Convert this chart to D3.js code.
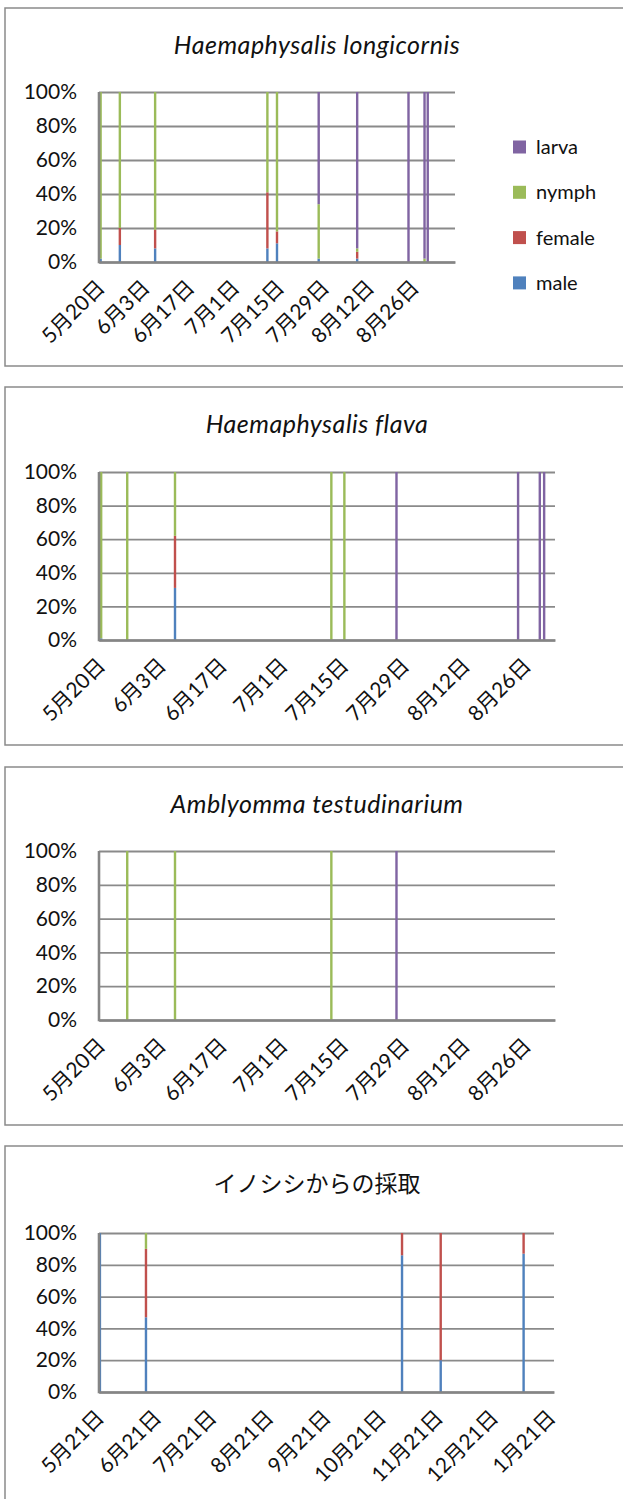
<!DOCTYPE html>
<html><head><meta charset="utf-8">
<script src="https://cdn.jsdelivr.net/npm/d3@7"></script>
<style>body{margin:0;background:#fff}</style>
</head><body>
<svg id="c" width="623" height="1499"></svg>
<script>
// ---------- DATA ----------
const stages = ["male", "female", "nymph", "larva"];
const stageColors = ["#4F81BD", "#C0504D", "#9BBB59", "#8064A2"];
const legendOrder = ["larva", "nymph", "female", "male"];
const yTicks = [0, 20, 40, 60, 80, 100];

// Panel 1: Haemaphysalis longicornis
const p1Title = "Haemaphysalis longicornis";
const p1Dates  = ["2013-05-20","2013-05-26","2013-06-06","2013-07-11","2013-07-14","2013-07-27","2013-08-08","2013-08-24","2013-08-29","2013-08-30"];
const p1Male   = [2, 10, 8, 8, 11, 2, 2, 0, 0, 0];
const p1Female = [0, 10, 11, 33, 7, 0, 4, 0, 0, 0];
const p1Nymph  = [98, 80, 81, 59, 82, 32, 2, 0, 2, 0];
const p1Larva  = [0, 0, 0, 0, 0, 66, 92, 100, 98, 100];

// Panel 2: Haemaphysalis flava
const p2Title = "Haemaphysalis flava";
const p2Dates  = ["2013-05-20","2013-05-26","2013-06-06","2013-07-12","2013-07-15","2013-07-27","2013-08-24","2013-08-29","2013-08-30"];
const p2Male   = [1, 0, 31, 0, 0, 0, 0, 0, 0];
const p2Female = [0, 0, 31, 0, 0, 0, 0, 0, 0];
const p2Nymph  = [99, 100, 38, 100, 100, 0, 0, 0, 0];
const p2Larva  = [0, 0, 0, 0, 0, 100, 100, 100, 100];

// Panel 3: Amblyomma testudinarium
const p3Title = "Amblyomma testudinarium";
const p3Dates  = ["2013-05-26","2013-06-06","2013-07-12","2013-07-27"];
const p3Male   = [0, 0, 0, 0];
const p3Female = [0, 0, 0, 0];
const p3Nymph  = [100, 100, 100, 0];
const p3Larva  = [0, 0, 0, 100];

// Panel 4: イノシシからの採取
const p4Title = "イノシシからの採取";
const p4Dates  = ["2013-05-21","2013-06-15","2013-11-01","2013-11-22","2014-01-06"];
const p4Male   = [100, 47, 86, 20, 87];
const p4Female = [0, 43, 14, 80, 13];
const p4Nymph  = [0, 10, 0, 0, 0];
const p4Larva  = [0, 0, 0, 0, 0];

// Axis tick dates and domains
const tickDates14 = ["2013-05-20","2013-06-03","2013-06-17","2013-07-01","2013-07-15","2013-07-29","2013-08-12","2013-08-26"];
const tickDatesMonthly = ["2013-05-21","2013-06-21","2013-07-21","2013-08-21","2013-09-21","2013-10-21","2013-11-21","2013-12-21","2014-01-21"];
const domainP1 = ["2013-05-20","2013-09-08"];
const domainP23 = ["2013-05-20","2013-09-02"];
const domainP4 = ["2013-05-21","2014-01-23"];

// ---------- DRAWING ----------
const svg = d3.select("#c");
const parse = d3.utcParse("%Y-%m-%d");
const HALF = 12 * 3600 * 1000;
const fmt = d3.utcFormat("%-m月%-d日");
const color = d3.scaleOrdinal().domain(stages).range(stageColors);
const GRID = "#8a8a8a", AXIS = "#858585";

function drawPanel(cfg) {
  const g = svg.append("g");
  g.append("rect").attr("x", 5).attr("y", cfg.top).attr("width", 650).attr("height", 358)
    .attr("fill", "#fff").attr("stroke", "#8a8a8a").attr("stroke-width", 1.5);

  g.append("text").attr("x", 317).attr("y", cfg.top + 46)
    .attr("text-anchor", "middle")
    .attr("font-family", cfg.jp ? "'Noto Sans CJK JP'" : "Lato")
    .attr("font-style", cfg.jp ? "normal" : "italic")
    .attr("font-size", cfg.jp ? 23 : 25)
    .attr("letter-spacing", cfg.jp ? 0 : 0.5)
    .attr("fill", "#111").text(cfg.title);

  const x0 = 99;
  const x = d3.scaleUtc().domain(cfg.domain.map(parse)).range([x0, cfg.right]);
  const y = d3.scaleLinear().domain([0, 100]).range([cfg.top + cfg.pb, cfg.top + cfg.pt]);

  // y axis with gridlines
  const ya = g.append("g").attr("transform", `translate(${x0},0)`)
    .call(d3.axisLeft(y).tickValues(yTicks).tickSize(-(cfg.right - x0)).tickSizeOuter(0)
      .tickPadding(22).tickFormat(d => d + "%"));
  ya.selectAll(".tick line").attr("stroke", GRID).attr("stroke-width", 1.8);
  ya.select(".domain").remove();
  ya.selectAll("text").attr("font-family", "Lato").attr("font-size", 21).attr("fill", "#111");

  // stacked bars
  const rows = cfg.dates.map((d, i) => ({date: parse(d), male: cfg.male[i], female: cfg.female[i], nymph: cfg.nymph[i], larva: cfg.larva[i]}));
  const series = d3.stack().keys(stages)(rows);
  const bw = 2.4;
  g.append("g").selectAll("g").data(series).join("g")
    .attr("fill", s => color(s.key))
    .selectAll("rect").data(s => s).join("rect")
    .attr("x", d => x(new Date(+d.data.date + HALF)) - bw / 2)
    .attr("width", bw)
    .attr("y", d => y(d[1]))
    .attr("height", d => Math.max(0, y(d[0]) - y(d[1])));

  // x axis
  const xa = g.append("g").attr("transform", `translate(0,${cfg.top + cfg.pb})`)
    .call(d3.axisBottom(x).tickValues(cfg.ticks.map(t => new Date(+parse(t) + HALF)))
      .tickSize(0).tickSizeOuter(0).tickFormat(fmt));
  xa.select(".domain").attr("stroke", AXIS).attr("stroke-width", 2.6);
  xa.selectAll("text").attr("font-family", "Lato, 'Noto Sans CJK JP'").attr("font-size", 21)
    .attr("fill", "#111").attr("text-anchor", "end").attr("x", 0).attr("y", 0).attr("dy", 0)
    .attr("transform", "translate(5,27) rotate(-45)");

  // left axis line
  g.append("line").attr("x1", x0).attr("x2", x0).attr("y1", y(100)).attr("y2", y(0) + 1.3)
    .attr("stroke", AXIS).attr("stroke-width", 2.6);

  if (cfg.legend) {
    const lg = g.append("g");
    legendOrder.forEach((k, i) => {
      const cy = cfg.top + 139 + i * 45.3;
      lg.append("rect").attr("x", 513).attr("y", cy - 6.5).attr("width", 13).attr("height", 13).attr("fill", color(k));
      lg.append("text").attr("x", 536).attr("y", cy).attr("dy", "0.35em")
        .attr("font-family", "Lato").attr("font-size", 20).attr("fill", "#111").text(k);
    });
  }
}

drawPanel({top: 8, title: p1Title, dates: p1Dates, male: p1Male, female: p1Female, nymph: p1Nymph, larva: p1Larva,
  domain: domainP1, ticks: tickDates14, right: 455, pt: 84, pb: 254, legend: true});
drawPanel({top: 387, title: p2Title, dates: p2Dates, male: p2Male, female: p2Female, nymph: p2Nymph, larva: p2Larva,
  domain: domainP23, ticks: tickDates14, right: 555, pt: 85, pb: 253});
drawPanel({top: 767, title: p3Title, dates: p3Dates, male: p3Male, female: p3Female, nymph: p3Nymph, larva: p3Larva,
  domain: domainP23, ticks: tickDates14, right: 555, pt: 84, pb: 253});
drawPanel({top: 1146, title: p4Title, dates: p4Dates, male: p4Male, female: p4Female, nymph: p4Nymph, larva: p4Larva,
  domain: domainP4, ticks: tickDatesMonthly, right: 554, pt: 87, pb: 246, jp: true});
</script>
</body></html>
